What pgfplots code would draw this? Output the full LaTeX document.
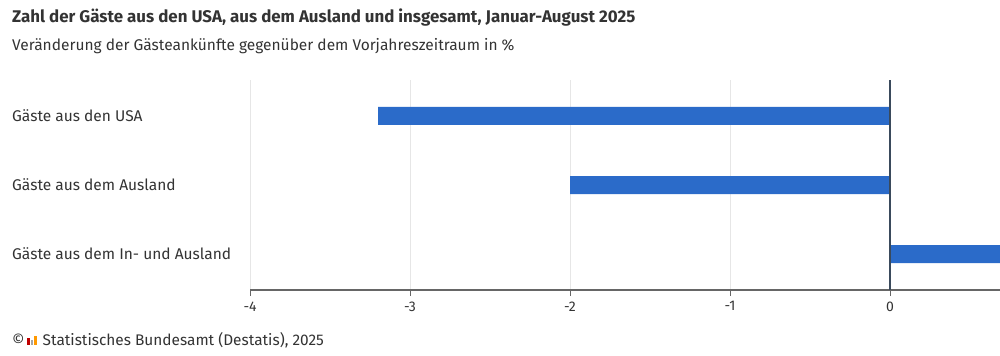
\documentclass[border=0pt]{standalone}
\usepackage{pgfplots}
\pgfplotsset{compat=1.18}
\usepackage{fontspec}
\setmainfont{Fira Sans}
\definecolor{barblue}{HTML}{2B6BC9}
\definecolor{txt}{HTML}{333333}
\definecolor{gridc}{HTML}{E6E6E6}
\definecolor{axisc}{HTML}{666666}
\definecolor{zeroc}{HTML}{3A4A5C}
\begin{document}
\begin{tikzpicture}[x=1bp,y=1bp]
\useasboundingbox (0,0) rectangle (1000,355);
\node[anchor=west, inner sep=0pt, text=txt, font=\fontsize{16.9bp}{20bp}\selectfont\bfseries] at (12,337) {Zahl der Gäste aus den USA, aus dem Ausland und insgesamt, Januar-August 2025};
\node[anchor=west, inner sep=0pt, text=txt, font=\fontsize{15.5bp}{18bp}\selectfont] at (12,309) {Veränderung der Gästeankünfte gegenüber dem Vorjahreszeitraum in \%};
\begin{axis}[
  at={(250bp,65bp)}, anchor=south west,
  scale only axis, width=750bp, height=210bp,
  xbar, bar width=18bp,
  xmin=-4, xmax=0.6875,
  ymin=-0.52, ymax=2.52, y dir=reverse,
  axis x line*=bottom, axis y line*=left,
  y axis line style={draw=none},
  x axis line style={draw=axisc, line width=1.2bp},
  clip=true,
  xtick={-4,-3,-2,-1,0},
  ytick={0,1,2},
  yticklabels={Gäste aus den USA, Gäste aus dem Ausland, Gäste aus dem In- und Ausland},
  yticklabel style={anchor=west, inner sep=0pt, xshift=-232bp, font=\fontsize{15.5bp}{18bp}\selectfont, text=txt},
  ytick style={draw=none},
  xmajorgrids=true, major grid style={gridc, line width=1bp},
  tick align=outside, major tick length=6bp,
  xtick style={draw=axisc, line width=1bp},
  xticklabel style={font=\fontsize{14bp}{16bp}\selectfont, text=txt, yshift=-2bp},
  /pgf/number format/assume math mode=true,
]
\addplot[fill=barblue, draw=none] coordinates {(-3.2,0) (-2.0,1) (0.7,2)};
\draw[zeroc, line width=1.2bp] (axis cs:0,-0.52) -- (axis cs:0,2.52);
\end{axis}
\node[anchor=west, inner sep=0pt, text=txt, font=\fontsize{15.4bp}{18bp}\selectfont] at (12,15) {©\hspace{18bp}Statistisches Bundesamt (Destatis), 2025};
\fill[red!75!black] (27,10) rectangle (29.5,17);
\fill[gray!70] (30.5,10) rectangle (33,15);
\fill[orange!80!yellow] (34,10) rectangle (36.5,19);
\end{tikzpicture}
\end{document}
